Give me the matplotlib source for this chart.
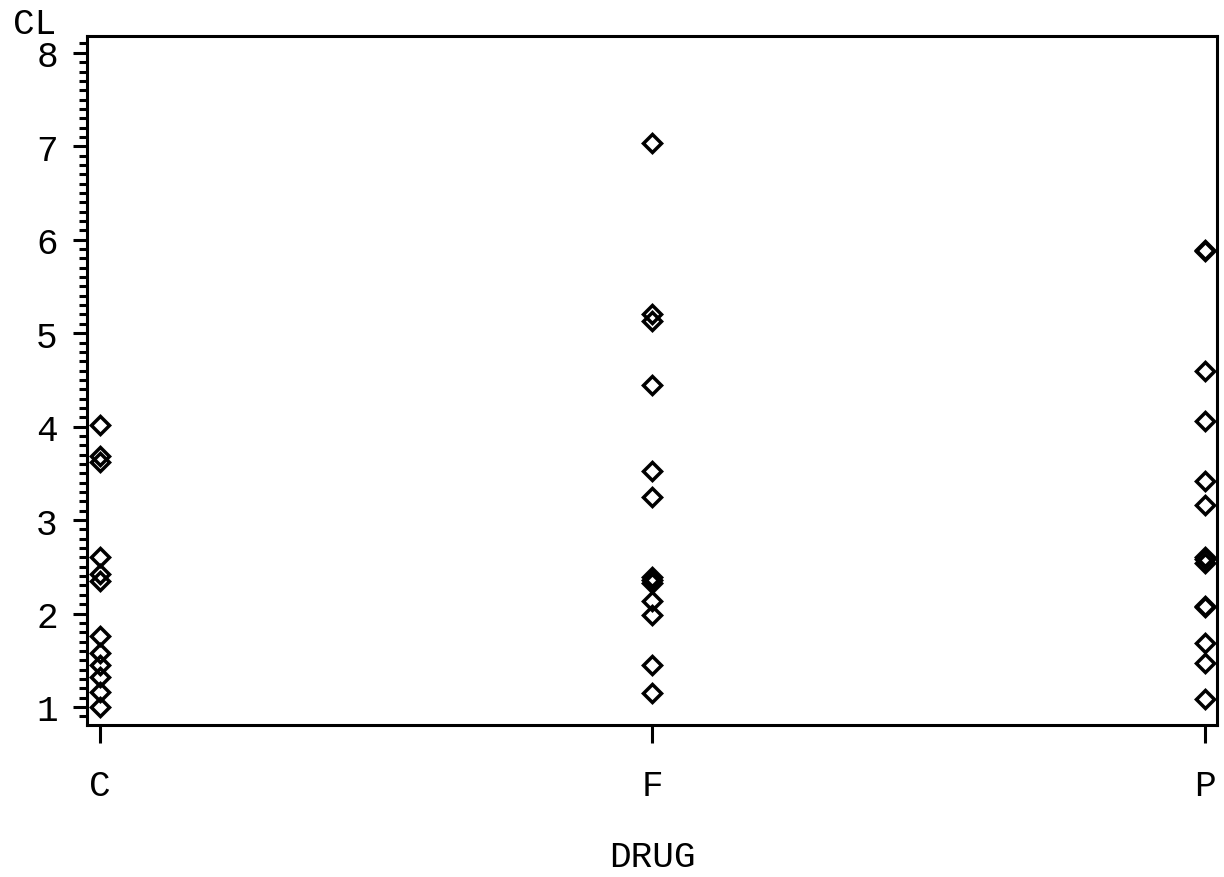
import matplotlib
matplotlib.use("Agg")
import matplotlib.pyplot as plt
from matplotlib.ticker import MultipleLocator

categories = ["C", "F", "P"]
cl_C = [4.02, 3.69, 3.62, 2.60, 2.42, 2.35, 1.76, 1.58, 1.45, 1.32, 1.16, 1.00]
cl_F = [7.04, 5.20, 5.13, 4.45, 3.53, 3.25, 2.39, 2.36, 2.33, 2.13, 1.98, 1.45, 1.15]
cl_P = [5.89, 5.88, 4.59, 4.06, 3.42, 3.16, 2.61, 2.58, 2.54, 2.08, 2.07, 1.68, 1.47, 1.09]
series = [cl_C, cl_F, cl_P]
y_ticks = [1, 2, 3, 4, 5, 6, 7, 8]

FONT = "Liberation Mono"
FS = 26

fig = plt.figure(figsize=(12.24, 8.78), dpi=100)
ax = fig.add_axes([87/1224, 1-726/878, (1217-87)/1224, (726-37)/878])

for i, vals in enumerate(series):
    ax.plot([i]*len(vals), vals, linestyle="none", marker=(4, 0, 0),
            markersize=13, markerfacecolor="none", markeredgecolor="black",
            markeredgewidth=2.5)

ax.set_xlim(-0.0235, 2.022)
ax.set_ylim(0.807, 8.18)
ax.set_xticks(range(len(categories)))
ax.set_xticklabels(categories, fontfamily=FONT, fontsize=FS)
ax.set_yticks(y_ticks)
ax.set_yticklabels([str(v) for v in y_ticks], fontfamily=FONT, fontsize=FS)
ax.yaxis.set_minor_locator(MultipleLocator(0.1))

for s in ax.spines.values():
    s.set_linewidth(2.2)
    s.set_color("black")

ax.tick_params(axis="y", which="major", direction="out", length=10, width=2.2, pad=11)
ax.tick_params(axis="y", which="minor", direction="out", length=6, width=2.2)
ax.tick_params(axis="x", which="major", direction="out", length=13, width=2.2, pad=18)

ax.set_xlabel("DRUG", fontfamily=FONT, fontsize=FS, labelpad=26)
fig.text(35/1224, 1-25/878, "CL", fontfamily=FONT, fontsize=FS, ha="center", va="center")

fig.savefig("out.png", dpi=100)
